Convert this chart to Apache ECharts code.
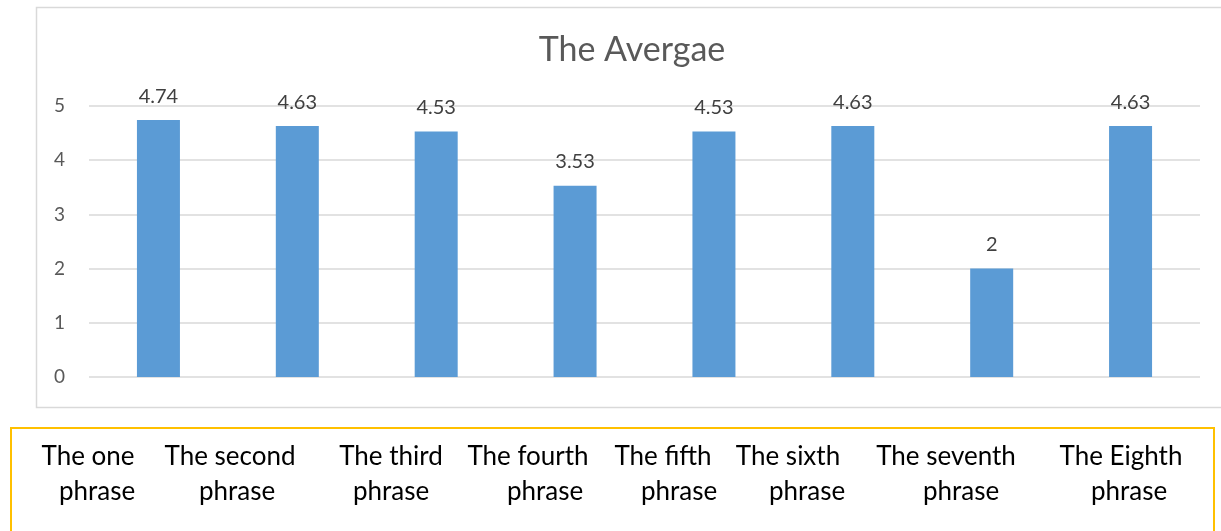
<!DOCTYPE html>
<html>
<head>
<meta charset="utf-8">
<script src="https://cdn.jsdelivr.net/npm/echarts@6/dist/echarts.min.js"></script>
<style>
  html, body { margin: 0; padding: 0; background: #fff; }
  #chart { width: 1221px; height: 531px; }
</style>
</head>
<body>
<div id="chart"></div>
<script>
// data
const categories = [
  "The one\nphrase", "The second\nphrase", "The third\nphrase", "The fourth\nphrase",
  "The fifth\nphrase", "The sixth\nphrase", "The seventh\nphrase", "The Eighth\nphrase"
];
const averages = [4.74, 4.63, 4.53, 3.53, 4.53, 4.63, 2, 4.63];
const yTicks = [0, 1, 2, 3, 4, 5];

// where the labels sit in the box under the chart (first line / second line)
const line1X = [88, 230, 391, 528, 663, 788, 946, 1121];
const line2X = [97, 237, 391, 545, 679, 807, 961, 1129];

let chart = echarts.init(document.getElementById("chart"));

const labelTexts = [];
categories.forEach(function (c, i) {
  const parts = c.split("\n");
  labelTexts.push({
    type: "text", x: line1X[i], y: 457,
    style: { text: parts[0], fill: "#000", font: "26px Lato", align: "center", verticalAlign: "middle" }
  });
  labelTexts.push({
    type: "text", x: line2X[i], y: 492,
    style: { text: parts[1], fill: "#000", font: "26px Lato", align: "center", verticalAlign: "middle" }
  });
});

chart.setOption({
  animation: false,
  grid: { left: 89, right: 21, top: 106, bottom: 154 },
  xAxis: {
    type: "category",
    data: categories,
    axisLine: { show: false },
    axisTick: { show: false },
    axisLabel: { show: false }
  },
  yAxis: {
    type: "value",
    min: yTicks[0],
    max: yTicks[yTicks.length - 1],
    interval: 1,
    axisLine: { show: false },
    axisTick: { show: false },
    axisLabel: { color: "#595959", fontFamily: "Lato", fontSize: 19, margin: 24 },
    splitLine: { lineStyle: { color: "#d9d9d9", width: 1.5 } }
  },
  series: [
    {
      type: "bar",
      data: averages,
      barWidth: 43,
      itemStyle: { color: "#5b9bd5" },
      label: {
        show: true,
        position: "top",
        distance: 14,
        color: "#404040",
        fontFamily: "Lato",
        fontSize: 20
      }
    }
  ],
  graphic: [
    // chart frame
    {
      type: "rect", z: -1,
      shape: { x: 36.5, y: 7.5, width: 1200, height: 400 },
      style: { fill: null, stroke: "#d9d9d9", lineWidth: 1.5 }
    },
    {
      type: "text", x: 632, y: 50,
      style: { text: "The Avergae", fill: "#595959", font: "34px Lato", align: "center", verticalAlign: "middle" }
    },
    // yellow box with the phrase names
    {
      type: "rect",
      shape: { x: 11, y: 428, width: 1203, height: 120 },
      style: { fill: null, stroke: "#ffc000", lineWidth: 2 }
    }
  ].concat(labelTexts)
});
</script>
</body>
</html>
